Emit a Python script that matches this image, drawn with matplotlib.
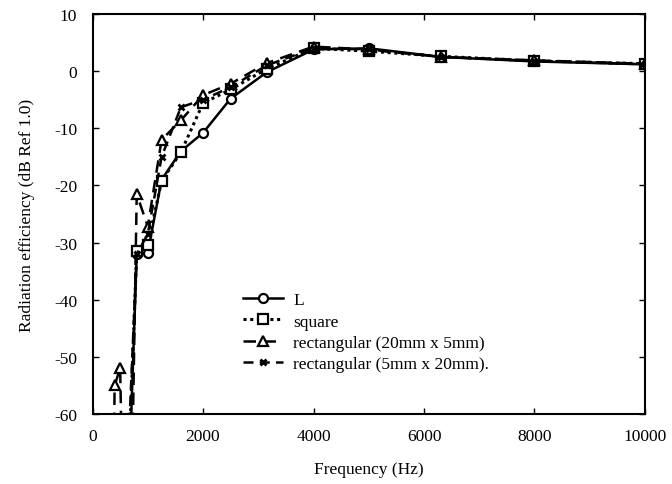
import numpy as np
import matplotlib
matplotlib.use("Agg")
import matplotlib.pyplot as plt

plt.rcParams['font.family'] = ['Liberation Serif', 'DejaVu Serif']
plt.rcParams['axes.unicode_minus'] = False

nan = np.nan
# one-third octave band centre frequencies (Hz)
freqs = [315, 400, 500, 630, 800, 1000, 1250, 1600, 2000, 2500, 3150, 4000, 5000, 6300, 8000, 10000]

# radiation efficiency (dB re 1.0) for each aperture shape
eff_L = [nan, nan, nan, -80, -32.0, -31.8, -19.0, -14.0, -10.8, -4.8, -0.2, 3.8, 4.0, 2.5, 1.7, 1.2]
eff_square = [nan, nan, nan, -75, -31.5, -30.4, -19.2, -14.2, -5.6, -3.2, 0.4, 4.0, 3.5, 2.6, 1.8, 1.3]
eff_rect_20x5 = [-120, -55.0, -52.0, -120, -21.5, -27.2, -12.0, -8.6, -4.2, -2.2, 1.4, 4.3, 3.8, 2.5, 1.9, 1.3]
eff_rect_5x20 = [nan, nan, nan, -70, -32.0, -28.5, -15.0, -6.3, -5.0, -2.8, 1.0, 4.0, 3.8, 2.5, 1.8, 1.2]

labels = ["L", "square", "rectangular (20mm x 5mm)", "rectangular (5mm x 20mm)."]

x_ticks = [0, 2000, 4000, 6000, 8000, 10000]
y_ticks = [-60, -50, -40, -30, -20, -10, 0, 10]

fig = plt.figure(figsize=(6.72, 4.85), dpi=100)
ax = fig.add_axes([0.1377, 0.1443, 0.8221, 0.8247])

lw = 1.8
ax.plot(freqs, eff_L, color='black', lw=lw, linestyle='-', marker='o',
        markersize=6.5, markerfacecolor='white', markeredgewidth=1.6, label=labels[0])
ax.plot(freqs, eff_square, color='black', lw=lw + 0.4, linestyle=(0, (1, 1.2)), marker='s',
        markersize=6.5, markerfacecolor='white', markeredgewidth=1.6, label=labels[1])
ax.plot(freqs, eff_rect_20x5, color='black', lw=lw, linestyle=(0, (5, 3)), marker='^',
        markersize=7.5, markerfacecolor='white', markeredgewidth=1.6, label=labels[2])
ax.plot(freqs, eff_rect_5x20, color='black', lw=lw, linestyle=(0, (4, 2.5)), marker='x',
        markersize=5, markeredgewidth=2.0, label=labels[3])

ax.set_xlim(0, 10000)
ax.set_ylim(-60, 10)
ax.set_xticks(x_ticks)
ax.set_yticks(y_ticks)
ax.tick_params(axis='both', direction='in', length=4, width=1, labelsize=12.5,
               top=True, right=True)
ax.tick_params(axis='x', pad=10)
ax.tick_params(axis='y', pad=11)
for s in ax.spines.values():
    s.set_linewidth(1.5)

ax.set_xlabel("Frequency (Hz)", fontsize=12.5, labelpad=12)
ax.set_ylabel("Radiation efficiency (dB Ref 1.0)", fontsize=12.5, labelpad=14)

leg = ax.legend(loc='upper left', bbox_to_anchor=(0.272, 0.305), frameon=False,
                fontsize=12.5, handlelength=2.3, handletextpad=0.6,
                labelspacing=0.3, borderpad=0, borderaxespad=0)

fig.savefig("out.png", dpi=100)
